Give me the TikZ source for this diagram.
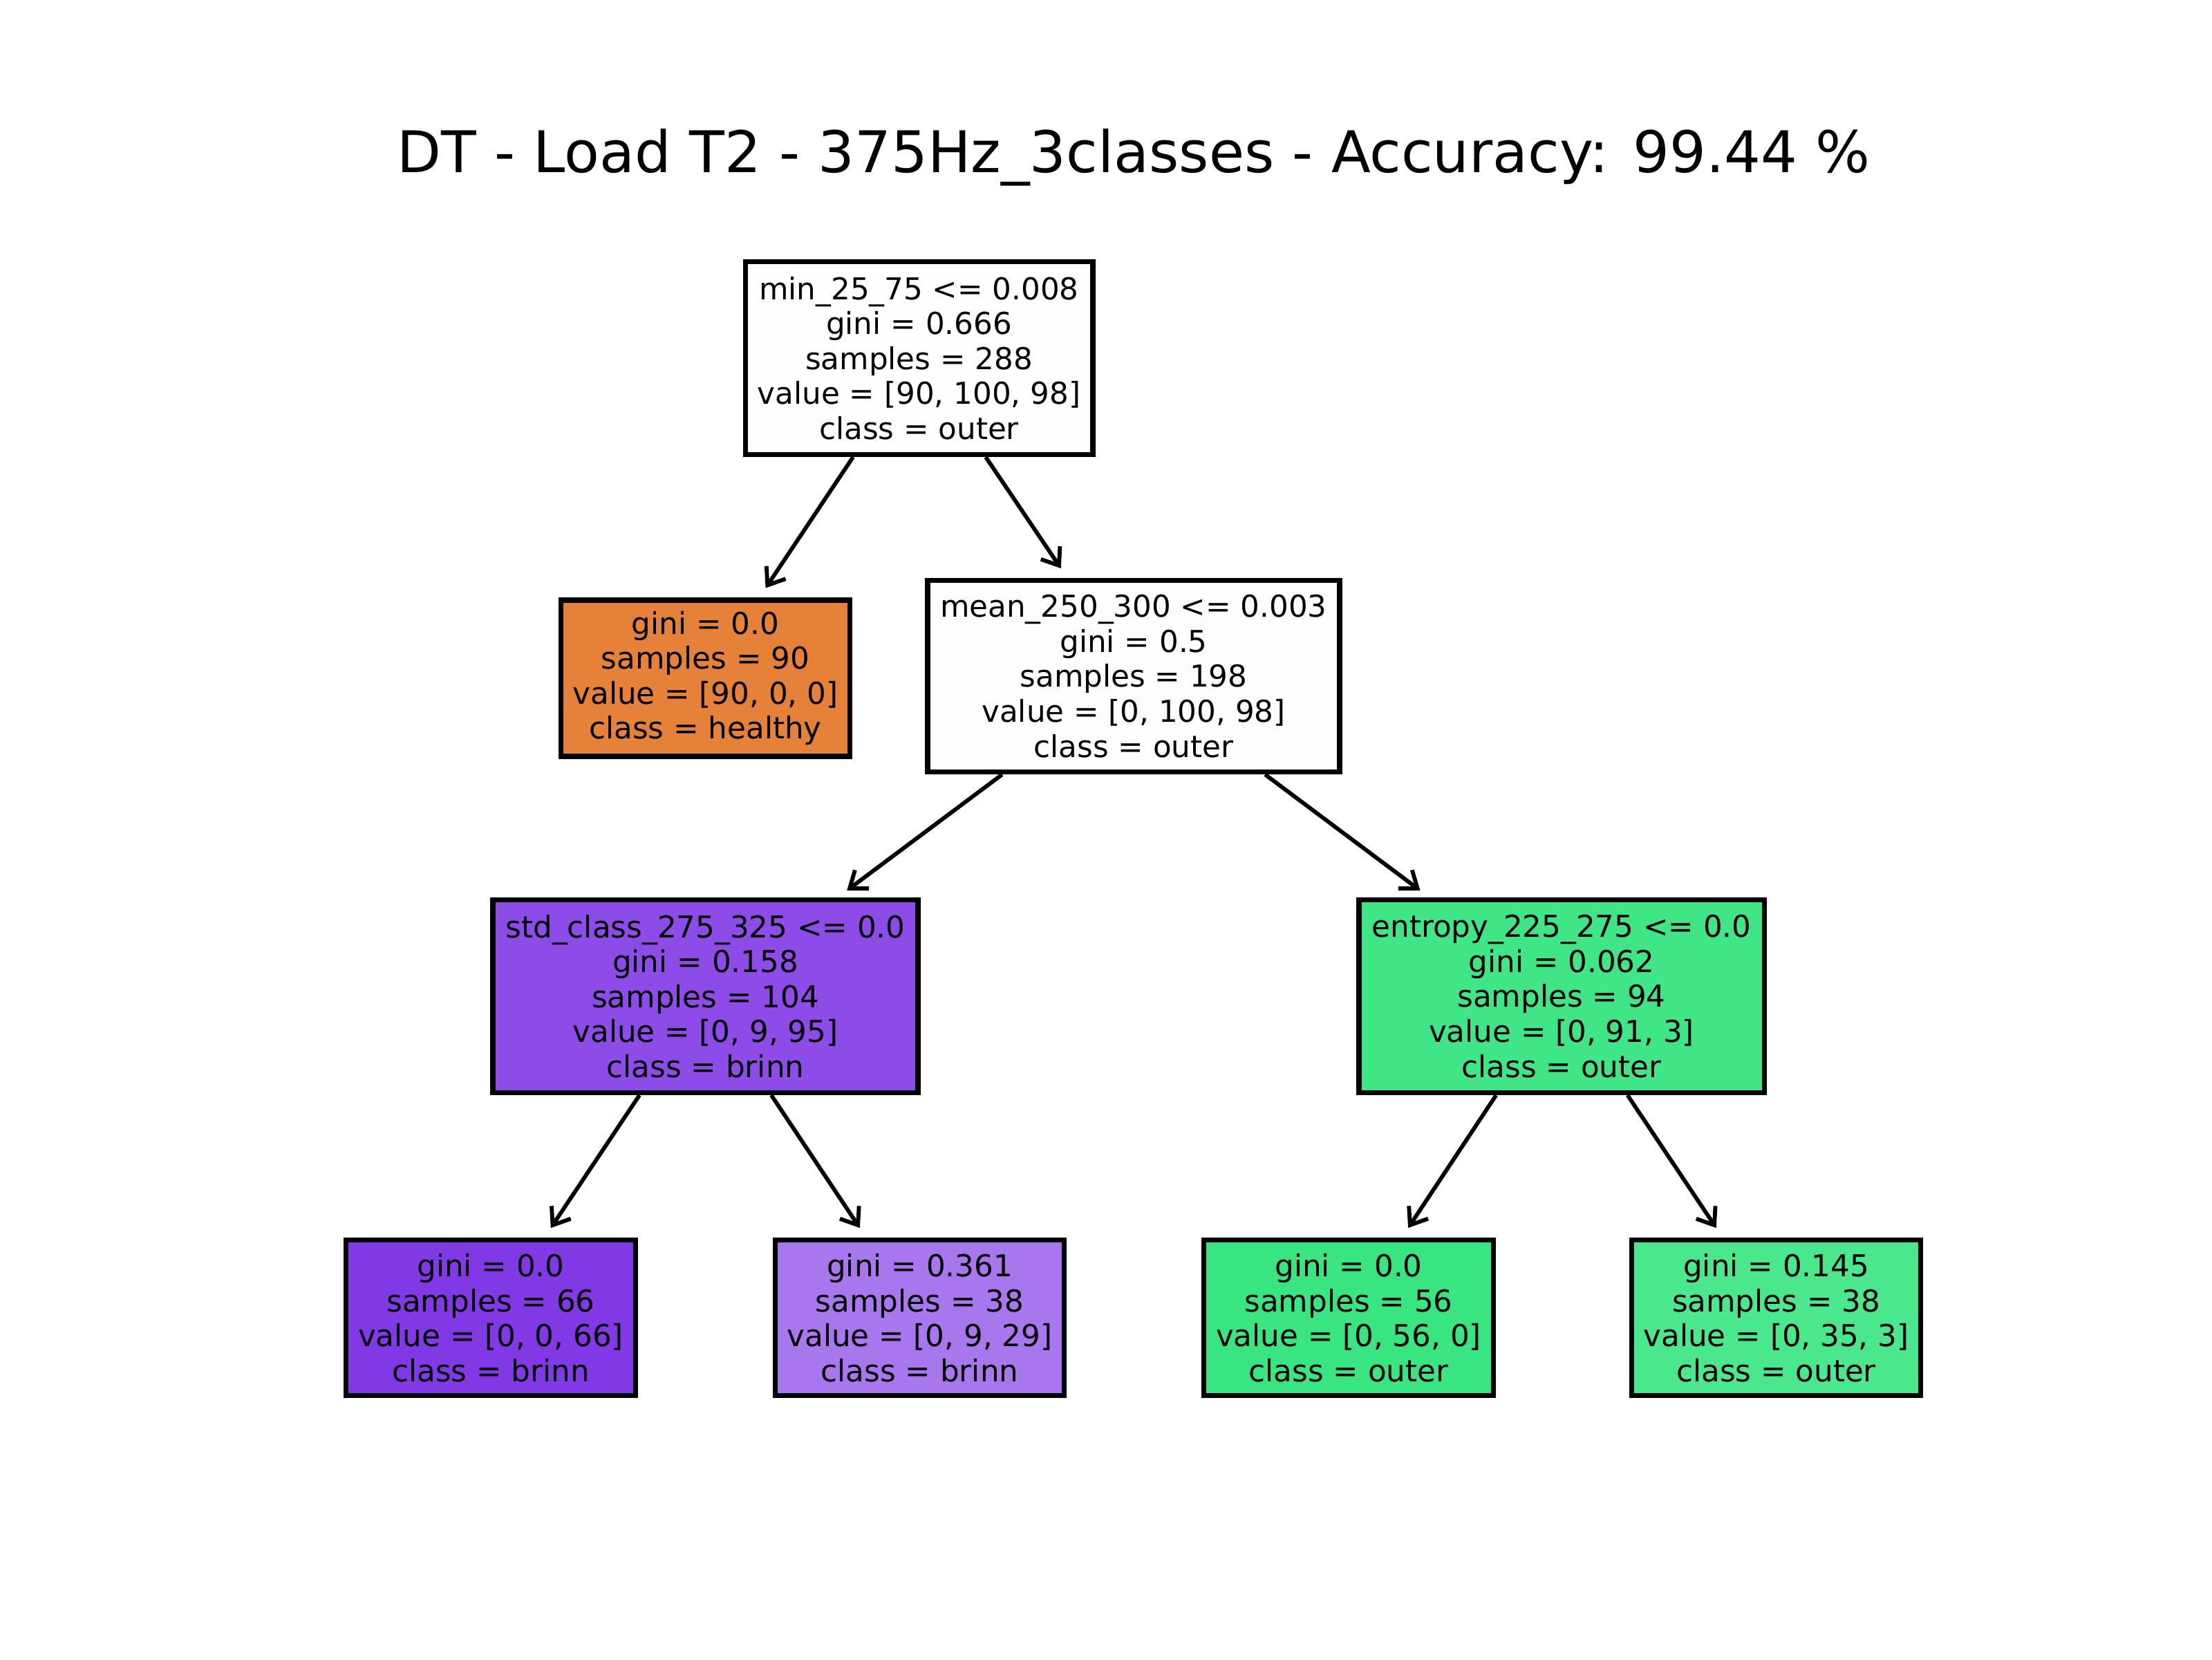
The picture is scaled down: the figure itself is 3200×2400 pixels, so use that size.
\documentclass[tikz,border=0pt]{standalone}
\usepackage{fontspec}
\setmainfont{DejaVu Sans}
\usetikzlibrary{arrows.meta}
% node fill colours (class colour blended with white by purity)
\definecolor{rootfill}{HTML}{FDFFFE}
\definecolor{meanfill}{HTML}{FBFEFC}
\definecolor{healthyfill}{HTML}{E58139}
\definecolor{stdfill}{HTML}{8D4CE7}
\definecolor{entrfill}{HTML}{40E685}
\definecolor{brinnfull}{HTML}{8139E5}
\definecolor{brinnlight}{HTML}{A876ED}
\definecolor{outerfull}{HTML}{39E581}
\definecolor{outerlight}{HTML}{4AE78C}
\begin{document}
\begin{tikzpicture}[x=0.18pt,y=-0.18pt,
  tnode/.style={draw=black, line width=1.3pt, align=center, inner sep=0pt,
    font=\fontsize{7.85}{9.1}\selectfont},
  split/.style={tnode, minimum height=50.2pt},
  leaf/.style={tnode, minimum width=75.3pt, minimum height=40.5pt},
  edge/.style={line width=1.05pt, -{Straight Barb[length=4pt,width=6pt,line width=1.05pt]}, shorten >=3pt}
]
\useasboundingbox (0,0) rectangle (3200,2400);
\fill[white] (0,0) rectangle (3200,2400);

\node[anchor=base, font=\fontsize{14.95}{18}\selectfont] (title) at (1640,249)
  {DT - Load T2 - 375Hz\_3classes - Accuracy: 99.44 \%};

% split nodes
\node[split, fill=rootfill, minimum width=90.5pt] (root) at (1329.5,518)
  {min\_25\_75 <= 0.008\\gini = 0.666\\samples = 288\\value = [90, 100, 98]\\class = outer};
\node[tnode, fill=healthyfill, minimum width=75.3pt, minimum height=40.7pt] (healthy) at (1020.5,981)
  {gini = 0.0\\samples = 90\\value = [90, 0, 0]\\class = healthy};
\node[split, fill=meanfill, minimum width=107.3pt, minimum height=49.9pt] (mean) at (1640,978)
  {mean\_250\_300 <= 0.003\\gini = 0.5\\samples = 198\\value = [0, 100, 98]\\class = outer};
\node[split, fill=stdfill, minimum width=110.7pt] (std) at (1020.5,1441)
  {std\_class\_275\_325 <= 0.0\\gini = 0.158\\samples = 104\\value = [0, 9, 95]\\class = brinn};
\node[split, fill=entrfill, minimum width=105.5pt] (entr) at (2259,1441)
  {entropy\_225\_275 <= 0.0\\gini = 0.062\\samples = 94\\value = [0, 91, 3]\\class = outer};

% leaves
\node[leaf, fill=brinnfull] (l1) at (710,1906)
  {gini = 0.0\\samples = 66\\value = [0, 0, 66]\\class = brinn};
\node[leaf, fill=brinnlight] (l2) at (1330.5,1906)
  {gini = 0.361\\samples = 38\\value = [0, 9, 29]\\class = brinn};
\node[leaf, fill=outerfull] (l3) at (1951,1906)
  {gini = 0.0\\samples = 56\\value = [0, 56, 0]\\class = outer};
\node[leaf, fill=outerlight] (l4) at (2569.5,1906)
  {gini = 0.145\\samples = 38\\value = [0, 35, 3]\\class = outer};

% edges
\draw[edge] (root) -- (healthy);
\draw[edge] (root) -- (mean);
\draw[edge] (mean) -- (std);
\draw[edge] (mean) -- (entr);
\draw[edge] (std) -- (l1);
\draw[edge] (std) -- (l2);
\draw[edge] (entr) -- (l3);
\draw[edge] (entr) -- (l4);
\end{tikzpicture}
\end{document}
